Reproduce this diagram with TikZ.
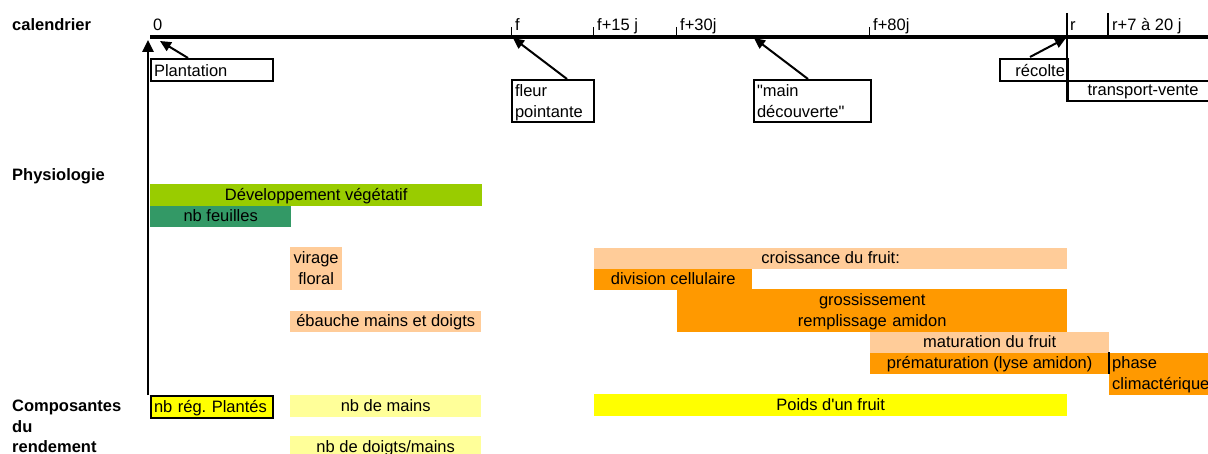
\documentclass[tikz,border=0pt]{standalone}
\usepackage{fontspec}
\setmainfont{Liberation Sans}
\usetikzlibrary{arrows.meta}
\definecolor{vgreen}{HTML}{99CC00}
\definecolor{dgreen}{HTML}{339966}
\definecolor{lorange}{HTML}{FFCC99}
\definecolor{dorange}{HTML}{FF9900}
\definecolor{yel}{HTML}{FFFF00}
\definecolor{lyel}{HTML}{FFFF99}
\frenchspacing
\newcommand{\sdq}{\XeTeXglyph\XeTeXcharglyph"22\relax}
\newcommand{\sapos}{\XeTeXglyph\XeTeXcharglyph"27\relax}
\begin{document}
\begin{tikzpicture}[x=1pt,y=-1pt,
  font=\fontsize{16.5pt}{21pt}\selectfont,
  bar/.style={rectangle, inner sep=0pt, anchor=north west, align=center, text height=13pt, text depth=2pt},
  bartwo/.style={bar, text height=13pt, text depth=23pt},
  callbox/.style={draw, line width=2pt, rectangle, inner sep=0pt, anchor=north west},
  lbl/.style={anchor=base west, inner sep=0pt},
  rowlbl/.style={anchor=base west, inner sep=0pt, font=\fontsize{16.5pt}{21pt}\selectfont\bfseries},
  callarrow/.style={line width=2pt, -{Triangle[length=11pt,width=10pt]}},
  mainarrow/.style={line width=2.5pt, -{Triangle[length=12pt,width=11pt]}},
  tick/.style={line width=0.8pt},
  rline/.style={line width=2pt}
]
\useasboundingbox (0,0) rectangle (1208,454);
\clip (0,0) rectangle (1208,454);

% row labels
\node[rowlbl] (cal) at (12,31) {calendrier};
\node[rowlbl] (phys) at (12,181) {Physiologie};
\node[rowlbl] (comp1) at (12,411) {Composantes};
\node[rowlbl] (comp2) at (12,432) {du};
\node[rowlbl] (comp3) at (12,452) {rendement};

% timeline
\coordinate (tl0) at (150,37);
\coordinate (tl1) at (1210,37);
\draw[line width=4pt] (tl0) -- (tl1);

% timeline labels
\node[lbl] (l0) at (153,31) {0};
\node[lbl] (lf) at (515,31) {f};
\node[lbl] (lf15) at (597,31) {f+15 j};
\node[lbl] (lf30) at (680,31) {f+30j};
\node[lbl] (lf80) at (873,31) {f+80j};
\node[lbl] (lr) at (1070,31) {r};
\node[lbl] (lr7) at (1112,31) {r+7 à 20 j};

% ticks
\draw[tick] (511,27) -- (511,35);
\draw[tick] (593,27) -- (593,35);
\draw[tick] (676,27) -- (676,35);
\draw[tick] (869,27) -- (869,35);
\draw[rline] (1108,13) -- (1108,35);

% callout boxes
\node[callbox, minimum width=122pt, minimum height=22pt, text width=116pt, align=left, text height=13pt, text depth=1pt] (plant) at (150,58.5) {Plantation};
\node[callbox, minimum width=82pt, minimum height=42pt, text width=76pt, align=left, text height=14pt, text depth=22pt] (fleur) at (511,79) {fleur\\pointante};
\node[callbox, minimum width=117pt, minimum height=42pt, text width=111pt, align=left, text height=14pt, text depth=22pt] (mainb) at (753,79) {\sdq main\\découverte\sdq};
\node[callbox, minimum width=68pt, minimum height=21.5pt, text width=62pt, align=right, text height=13pt, text depth=1pt] (recolte) at (999,58.5) {récolte};
\node[callbox, minimum width=150pt, minimum height=20pt, text width=144pt, align=center, text height=12pt, text depth=2pt] (transport) at (1067,80) {transport-vente};

% r line
\coordinate (rtop) at (1067,13);
\draw[rline] (rtop) -- (transport.south west);

% callout arrows
\coordinate (plantfrom) at (188,58);
\coordinate (plantto) at (160,41);
\draw[callarrow] (plantfrom) -- (plantto);
\coordinate (fleurfrom) at (567,79);
\coordinate (fleurto) at (513,38);
\draw[callarrow] (fleurfrom) -- (fleurto);
\coordinate (mainfrom) at (808,79);
\coordinate (mainto) at (754,38);
\draw[callarrow] (mainfrom) -- (mainto);
\coordinate (recfrom) at (1030,57);
\coordinate (recto) at (1066,38);
\draw[callarrow] (recfrom) -- (recto);

% physiology bars
\node[bar, fill=vgreen, minimum width=332pt, minimum height=21.5pt] (dev) at (150,184) {Développement végétatif};
\node[bar, fill=dgreen, minimum width=141pt, minimum height=21.5pt] (feuilles) at (150,205.5) {nb feuilles};
\node[bartwo, fill=lorange, minimum width=52pt, minimum height=42.5pt, text width=52pt] (virage) at (290,247) {virage\\floral};
\node[bar, fill=lorange, minimum width=191pt, minimum height=21.5pt] (ebauche) at (290,310.5) {ébauche mains et doigts};

\node[bar, fill=lorange, minimum width=473pt, minimum height=21pt] (croiss) at (594,247.5) {croissance du fruit:};
\node[bar, fill=dorange, minimum width=158pt, minimum height=21pt] (division) at (594,268.5) {division cellulaire};
\node[bartwo, fill=dorange, minimum width=390pt, minimum height=42.5pt, text width=390pt] (gross) at (677,289) {grossissement\\remplissage amidon};
\node[bar, fill=lorange, minimum width=239pt, minimum height=21pt] (matur) at (870,331.5) {maturation du fruit};
\node[bar, fill=dorange, minimum width=239pt, minimum height=21pt] (premat) at (870,352.5) {prématuration (lyse amidon)};
\node[bartwo, fill=dorange, minimum width=110pt, minimum height=42pt, text width=104pt, align=left] (phase) at (1109,352.5) {phase\\climactérique};
\draw[line width=2pt] (premat.north east) -- (premat.south east);

% yield components
\node[bar, fill=yel, draw, line width=2pt, minimum width=122pt, minimum height=22pt, text width=116pt, align=left] (nbreg) at (150,395) {nb rég. Plantés};
\node[bar, fill=lyel, minimum width=191pt, minimum height=21.5pt] (mains) at (290,395) {nb de mains};
\node[bar, fill=lyel, minimum width=191pt, minimum height=22pt] (doigts) at (290,436) {nb de doigts/mains};
\node[bar, fill=yel, minimum width=473pt, minimum height=22pt] (poids) at (594,394) {Poids d\sapos un fruit};

% main vertical arrow
\coordinate (vbot) at (148,395);
\coordinate (vtop) at (148,40);
\draw[mainarrow] (vbot) -- (vtop);
\end{tikzpicture}
\end{document}
